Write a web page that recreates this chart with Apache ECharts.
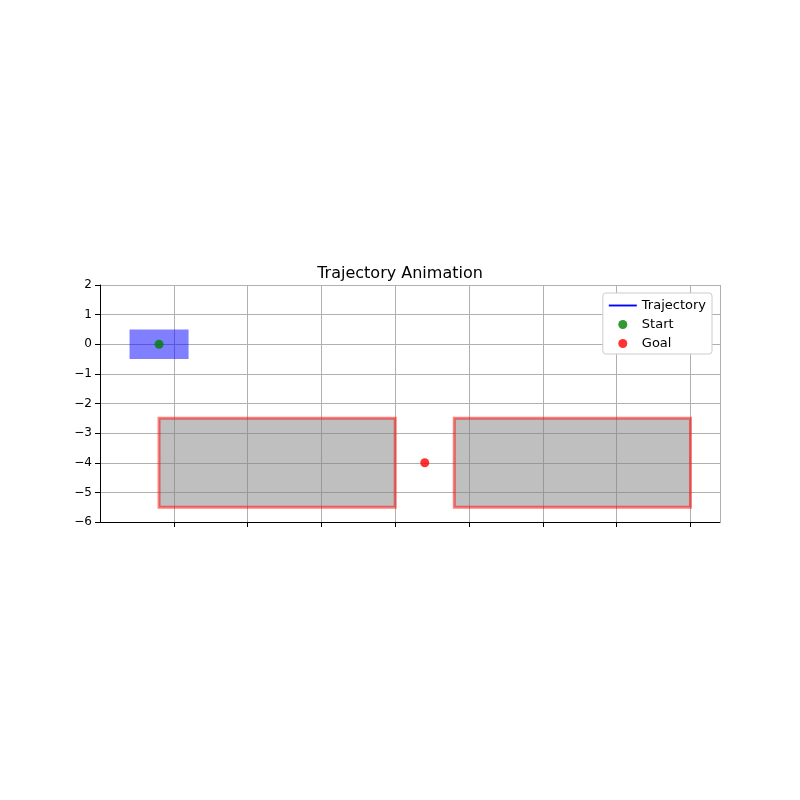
<!DOCTYPE html>
<html><head><meta charset="utf-8">
<script src="https://cdn.jsdelivr.net/npm/echarts@6/dist/echarts.min.js"></script>
<style>html,body{margin:0;background:#fff}#c{width:800px;height:800px}</style>
</head><body><div id="c"></div>
<script>
const obstacles = [[0,-5.5,8,3],[10,-5.5,8,3]]; // x, y, w, h
const robot = [[-1,-0.5,2,1]];
const startPt = [[0,0]];
const goalPt = [[9,-4]];
const trajectory = [];
const xTicks = [0,2.5,5,7.5,10,12.5,15,17.5];

function rectSeries(data, fill, stroke, lw, z){
  return {type:'custom', z:z, silent:true, data:data,
    renderItem:(p,api)=>{
      const a=api.coord([api.value(0),api.value(1)+api.value(3)]);
      const b=api.coord([api.value(0)+api.value(2),api.value(1)]);
      return {type:'rect', shape:{x:a[0],y:a[1],width:b[0]-a[0],height:b[1]-a[1]},
        style:{fill:fill, stroke:stroke, lineWidth:lw}};
    }, encode:{x:0,y:1}};
}
const chart = echarts.init(document.getElementById('c'));
chart.setOption({
  animation:false,
  title:{text:'Trajectory Animation', left:'center', top:261, textStyle:{fontFamily:'DejaVu Sans', fontSize:16, fontWeight:'normal', color:'#000'}},
  grid:{left:100, right:80, top:285, bottom:278},
  legend:{right:88, top:293, orient:'vertical', itemGap:6, backgroundColor:'#fff', borderColor:'#ccc', borderWidth:1, borderRadius:3, padding:[6,6,4,6],
    textStyle:{fontFamily:'DejaVu Sans', fontSize:13, color:'#000'},
    data:[{name:'Trajectory', icon:'path://M0,0L30,0L30,2L0,2Z'},{name:'Start', icon:'circle'},{name:'Goal', icon:'circle'}],
    itemWidth:28, itemHeight:9},
  xAxis:{type:'value', min:-2, max:19, interval:2.5,
    axisLine:{onZero:false, lineStyle:{color:'#000'}}, axisTick:{lineStyle:{color:'#000'}},
    axisLabel:{color:'#000', fontFamily:'DejaVu Sans', fontSize:12, showMinLabel:false, showMaxLabel:false,
      formatter:v=>xTicks.includes(v)?v.toFixed(1):''},
    splitLine:{show:true, lineStyle:{color:'#b0b0b0'}}},
  yAxis:{type:'value', min:-6, max:2, interval:1,
    axisLine:{show:true, onZero:false, lineStyle:{color:'#000'}}, axisTick:{show:true, lineStyle:{color:'#000'}},
    axisLabel:{color:'#000', fontFamily:'DejaVu Sans', fontSize:12, formatter:v=>v<0?'\u2212'+(-v):''+v},
    splitLine:{show:true, lineStyle:{color:'#b0b0b0'}}},
  series:[
    rectSeries(obstacles,'rgba(128,128,128,0.5)','rgba(255,0,0,0.5)',3,3),
    rectSeries(robot,'rgba(0,0,255,0.5)',null,0,3),
    {name:'Trajectory', type:'line', data:trajectory, itemStyle:{color:'#0000ff'}, lineStyle:{color:'#0000ff'}},
    {name:'Start', type:'scatter', data:startPt, symbolSize:9, itemStyle:{color:'#008000'}, z:5},
    {name:'Goal', type:'scatter', data:goalPt, symbolSize:9, itemStyle:{color:'#ff0000'}, z:5}
  ]
});
</script></body></html>
